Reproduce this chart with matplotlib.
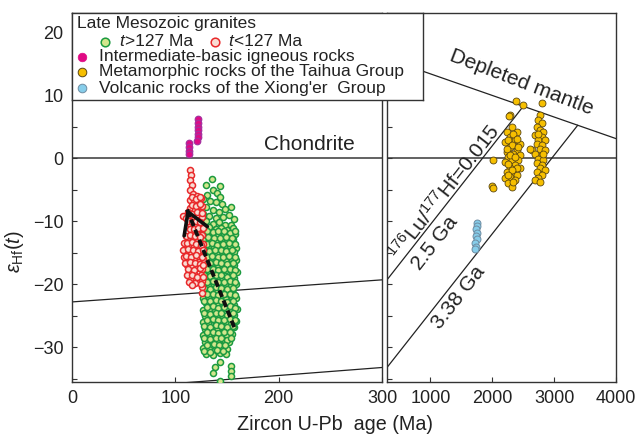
import matplotlib
matplotlib.use('Agg')
import matplotlib.pyplot as plt
from matplotlib.ticker import MultipleLocator, FixedLocator, NullFormatter

plt.rcParams['font.family'] = ['Liberation Sans', 'DejaVu Sans']
plt.rcParams['mathtext.fontset'] = 'custom'
plt.rcParams['mathtext.rm'] = 'Liberation Sans'
plt.rcParams['mathtext.it'] = 'Liberation Sans:italic'
plt.rcParams['mathtext.bf'] = 'Liberation Sans:bold'

# ---------------- data ----------------
# Late Mesozoic granites, t > 127 Ma (age Ma, eHf(t))
green_x = [135, 130, 143, 136, 140, 131, 127, 134, 139, 145, 154, 130, 136, 142, 127, 133, 139, 146, 157,
           130, 136, 142, 148, 154, 143, 148, 152,
           128, 133, 139, 144, 150, 156,
           126, 131, 136, 141, 147, 153, 158,
           129, 134, 139, 145, 150, 156,
           127, 132, 137, 142, 148, 153, 159,
           129, 135, 140, 146, 151, 157,
           127, 132, 138, 143, 149, 154, 159,
           130, 135, 141, 146, 152, 157,
           127, 133, 138, 144, 149, 155, 160,
           129, 135, 140, 146, 151, 157,
           127, 132, 137, 143, 148, 154, 159,
           129, 134, 140, 145, 151, 156,
           127, 132, 138, 143, 149, 154, 159,
           130, 135, 141, 146, 152, 157,
           127, 133, 138, 144, 149, 155, 160,
           129, 135, 140, 146, 151, 157,
           127, 132, 138, 143, 149, 154, 159,
           129, 135, 140, 146, 152, 157,
           127, 133, 138, 144, 150, 155,
           129, 135, 141, 147, 152,
           127, 133, 139, 145, 150,
           130, 136, 143, 149,
           143, 138, 136, 154, 154, 154, 143]
green_y = [-3.3, -4.2, -4.4, -5.0, -5.6, -5.9, -6.5, -6.8, -7.0, -7.3, -7.7, -7.8, -8.3, -8.5, -8.9, -9.2, -9.5, -9.4, -9.6,
           -10.0, -10.4, -10.2, -10.6, -10.6, -6.1, -8.1, -9.0,
           -11.2, -10.9, -11.3, -11.0, -11.4, -11.1,
           -12.1, -12.3, -11.9, -12.2, -12.0, -12.4, -12.1,
           -13.1, -12.8, -13.3, -13.0, -13.2, -12.9,
           -14.2, -13.9, -14.1, -14.3, -13.8, -14.0, -14.2,
           -15.1, -14.9, -15.2, -15.0, -15.3, -14.9,
           -16.1, -16.2, -15.9, -16.0, -16.3, -15.9, -16.1,
           -17.0, -17.2, -16.9, -17.1, -17.3, -17.0,
           -18.1, -17.9, -18.2, -18.0, -17.8, -18.2, -18.0,
           -19.2, -19.0, -18.9, -19.1, -19.3, -19.0,
           -20.0, -20.2, -19.9, -20.1, -20.0, -20.3, -19.9,
           -21.1, -20.9, -21.2, -21.0, -21.1, -20.8,
           -22.1, -21.9, -22.2, -22.0, -22.3, -21.9, -22.1,
           -23.0, -23.2, -22.9, -23.1, -23.0, -23.3,
           -24.1, -23.9, -24.2, -24.0, -23.8, -24.2, -24.0,
           -25.1, -24.9, -25.2, -25.0, -25.1, -24.8,
           -26.0, -26.2, -25.9, -26.1, -26.0, -26.3, -25.9,
           -27.1, -26.9, -27.2, -27.0, -27.1, -26.8,
           -28.1, -27.9, -28.2, -28.0, -28.2, -27.9,
           -29.1, -29.0, -29.2, -28.9, -29.1,
           -30.1, -30.2, -29.9, -30.0, -30.3,
           -31.0, -31.2, -30.9, -31.1,
           -32.4, -33.1, -34.0, -32.9, -33.8, -34.6, -35.4]

# second (interleaved) set of t > 127 Ma granite analyses
green2_x = [130.5, 136, 141.5, 147, 152.5, 158,
            127.5, 132, 137.5, 143, 149, 155,
            130.5, 135.5, 140.5, 146, 151.5, 157.5,
            128, 133, 138.5, 144, 149.5, 155,
            130.5, 135.5, 141, 146.5, 152, 157.5,
            128, 133.5, 139, 144.5, 150, 155.5,
            130.5, 136, 141.5, 147, 152.5, 158,
            128, 133.5, 139, 144.5, 150, 155.5,
            130.5, 136, 141.5, 147, 152.5, 157.5,
            128, 133.5, 139, 144.5, 150, 155.5,
            130.5, 136, 141.5, 147, 152.5, 157.5,
            128, 133.5, 139, 144.5, 150, 155.5,
            130.5, 136, 141.5, 147, 152.5, 157.5,
            128, 133.5, 139, 144.5, 150, 155.5,
            130.5, 136, 141.5, 147, 152.5, 157.5,
            128, 133.5, 139, 144.5, 150, 155.5,
            130.5, 136, 141.5, 147, 152.5,
            128, 133.5, 139, 144.5, 150, 154,
            131, 137, 142.5, 148,
            128, 134, 140, 146]
green2_y = [-11.6, -11.7, -11.5, -11.6, -11.8, -11.6,
            -12.6, -12.5, -12.7, -12.6, -12.5, -12.7,
            -13.6, -13.5, -13.7, -13.6, -13.4, -13.6,
            -14.6, -14.7, -14.5, -14.6, -14.8, -14.6,
            -15.6, -15.5, -15.7, -15.6, -15.5, -15.7,
            -16.6, -16.7, -16.5, -16.6, -16.8, -16.6,
            -17.6, -17.5, -17.7, -17.6, -17.5, -17.7,
            -18.6, -18.7, -18.5, -18.6, -18.8, -18.6,
            -19.6, -19.5, -19.7, -19.6, -19.5, -19.7,
            -20.6, -20.7, -20.5, -20.6, -20.8, -20.6,
            -21.6, -21.5, -21.7, -21.6, -21.5, -21.7,
            -22.6, -22.7, -22.5, -22.6, -22.8, -22.6,
            -23.6, -23.5, -23.7, -23.6, -23.5, -23.7,
            -24.6, -24.7, -24.5, -24.6, -24.8, -24.6,
            -25.6, -25.5, -25.7, -25.6, -25.5, -25.7,
            -26.6, -26.7, -26.5, -26.6, -26.8, -26.6,
            -27.6, -27.5, -27.7, -27.6, -27.5,
            -28.6, -28.7, -28.5, -28.6, -28.8, -28.6,
            -29.6, -29.5, -29.7, -29.6,
            -30.6, -30.7, -30.5, -30.6]

# Late Mesozoic granites, t < 127 Ma
red_x = [114, 115, 114, 116, 114, 117, 121, 125, 114, 118, 122, 126, 114, 119, 124,
         107, 110, 114, 118, 122, 126, 114, 119, 124, 116, 121, 126, 112, 117, 122,
         108, 113, 118, 123, 127, 110, 115, 120, 125, 108, 113, 118, 123, 127,
         111, 116, 121, 126, 113, 118, 125, 114, 119, 126, 126, 126,
         116, 120, 124, 116, 120, 124, 112, 116, 121, 126, 112, 116, 120, 124,
         114, 118, 122, 127, 110, 114, 119, 124, 111, 116, 120, 125,
         107, 112, 117, 122, 127, 110, 115, 120, 126, 109, 114, 119, 124,
         112, 118, 124, 127, 111, 116, 121, 127, 113, 116, 125]
red_y = [-1.8, -2.7, -3.5, -4.3, -5.1, -5.7, -6.0, -6.3, -6.6, -7.0, -7.2, -7.6, -7.9, -8.2, -8.5,
         -9.2, -9.5, -9.0, -9.6, -9.8, -9.4, -10.5, -10.8, -11.0, -11.6, -12.0, -12.2, -12.5, -12.9, -13.1,
         -13.4, -13.8, -14.0, -14.2, -13.6, -14.6, -14.9, -15.1, -15.3, -15.7, -16.0, -16.2, -16.4, -16.0,
         -16.9, -17.2, -17.4, -17.6, -18.1, -18.4, -18.6, -19.2, -19.8, -19.5, -20.5, -21.4,
         -6.2, -6.4, -6.1, -7.4, -7.6, -7.3, -8.6, -8.8, -8.5, -8.7, -10.0, -10.1, -9.9, -10.2,
         -11.2, -11.3, -11.1, -11.0, -12.3, -12.2, -12.4, -12.5, -13.5, -13.3, -13.6, -13.7,
         -14.5, -14.4, -14.6, -14.7, -14.5, -15.5, -15.6, -15.4, -15.6, -16.6, -16.5, -16.7, -16.8,
         -17.5, -17.7, -17.4, -17.0, -18.5, -18.6, -18.8, -18.9, -19.6, -20.1, -20.0]

# Intermediate-basic igneous rocks
mafic_x = [122, 122, 122, 122, 122, 122, 121, 113, 113, 113, 113]
mafic_y = [6.2, 5.6, 5.0, 4.4, 3.8, 3.3, 2.8, 2.4, 1.8, 1.2, 0.6]

# Metamorphic rocks of the Taihua Group
taihua_x = [2285, 2312, 2231, 2393, 2285, 2366, 2204, 2447, 2285, 2393, 2231, 2339, 2447, 2258,
            2312, 2420, 2204, 2366, 2285, 2447, 2231, 2339, 2393, 2285, 2204, 2366, 2258, 2312,
            2339, 2258, 2393, 2312, 2231, 2420, 2285, 2366, 2258, 2393, 2312, 2258, 2339,
            2382, 2491, 2274, 2015, 1990, 2010,
            2771, 2744, 2798, 2717, 2771, 2825, 2690, 2798, 2744, 2852, 2717, 2798, 2636, 2771,
            2852, 2690, 2798, 2744, 2825, 2717, 2798, 2771, 2852, 2717, 2798, 2744, 2690, 2771,
            2808, 2609, 2744, 2825]
taihua_y = [6.8, 5.0, 4.2, 4.2, 3.4, 2.9, 2.6, 2.3, 1.8, 1.3, 1.0, 0.7, 0.5, 0.2,
            -0.3, -0.3, -0.6, -1.1, -1.6, -1.6, -2.2, -2.4, -2.7, -3.0, -3.2, -3.5, -4.0, -4.6,
            3.9, 2.9, 3.1, 2.1, 1.5, 1.8, 0.5, 0.2, -0.9, -1.6, -1.9, -2.7, -3.8,
            9.0, 8.4, 6.7, -0.3, -4.4, -4.8,
            6.8, 6.0, 5.5, 5.0, 4.4, 4.2, 3.6, 3.4, 2.9, 2.9, 2.3, 2.1, 1.3, 1.5,
            1.3, 0.7, 0.5, -0.1, -0.3, -0.8, -1.1, -1.6, -1.9, -2.2, -2.7, -3.2, -3.5, -3.8,
            8.7, 1.5, 3.9, 0.7]

# Volcanic rocks of the Xiong'er Group
xionger_x = [1750, 1762, 1740, 1755, 1735, 1748, 1725, 1732, 1718]
xionger_y = [-10.3, -10.8, -11.3, -11.8, -12.4, -12.9, -13.5, -14.1, -14.4]

# reference lines (age Ma, eHf)
dm_x = [0, 4000]
dm_y = [16.8, 3.1]
crust25_x = [0, 300, 2500]
crust25_y = [-22.8, -19.3, 8.2]
crust338_x = [0, 300, 3380]
crust338_y = [-37.0, -33.2, 5.2]

arrow_start = (157, -26.8)
arrow_tip = (111, -8.0)

left_xticks = [0, 100, 200, 300]
right_xticks = [1000, 2000, 3000, 4000]
yticks = [-30, -20, -10, 0, 10, 20]

# ---------------- style ----------------
W, H = 638, 437
fig = plt.figure(figsize=(W / 100, H / 100), dpi=100)


def frect(x0, y0, x1, y1):
    return [x0 / W, 1 - y1 / H, (x1 - x0) / W, (y1 - y0) / H]


ax1 = fig.add_axes(frect(72, 12.5, 382, 382))
ax2 = fig.add_axes(frect(387, 12.5, 616, 382))

TXT = '#222222'
FS_TICK = 13
FS_ANN = 15
FS_LAB = 14.2
FS_LEG = 12.5

c_green_e, c_green_f = '#1c9a40', '#d3e68c'
c_red_e, c_red_f = '#e8292b', '#f9dcd3'
c_mag_e, c_mag_f = '#a6309f', '#e00a84'
c_gold_e, c_gold_f = '#5a4612', '#f6bf00'
c_blue_e, c_blue_f = '#6e8ca2', '#86cdea'

for ax in (ax1, ax2):
    ax.set_ylim(-35.5, 23.1)
    for s in ax.spines.values():
        s.set_linewidth(1.0)
        s.set_color('#333333')
    ax.axhline(0, color='#555555', lw=1.3, zorder=1)
    ax.plot(crust25_x, crust25_y, color='#222222', lw=0.9, zorder=1)
    ax.plot(crust338_x, crust338_y, color='#222222', lw=0.9, zorder=1)
    ax.plot(dm_x, dm_y, color='#222222', lw=0.9, zorder=1)
    ax.tick_params(axis='both', which='both', direction='in', length=3.5, width=0.8,
                   colors='#333333', labelcolor=TXT, labelsize=FS_TICK, pad=6)

ax1.set_xlim(0, 300)
ax2.set_xlim(300, 4000)
ax1.xaxis.set_major_locator(FixedLocator(left_xticks))
ax2.xaxis.set_major_locator(FixedLocator(right_xticks))
ax1.yaxis.set_major_locator(FixedLocator(yticks))
ax1.yaxis.set_minor_locator(MultipleLocator(5))
ax2.yaxis.set_major_locator(MultipleLocator(5))
ax2.yaxis.set_major_formatter(NullFormatter())

# scatter
gkw = dict(s=19, facecolor=c_green_f, edgecolor=c_green_e, linewidth=1.1, zorder=3)
ax1.scatter(green_x, green_y, **gkw)
ax1.scatter(green2_x, green2_y, **gkw)
ax1.scatter(red_x, red_y, s=19, facecolor=c_red_f, edgecolor=c_red_e, linewidth=1.1, zorder=4)
ax1.scatter(mafic_x, mafic_y, s=22, facecolor=c_mag_f, edgecolor=c_mag_e, linewidth=0.9, zorder=5)
ax2.scatter(taihua_x, taihua_y, s=25, facecolor=c_gold_f, edgecolor=c_gold_e, linewidth=0.6, zorder=3)
ax2.scatter(xionger_x, xionger_y, s=25, facecolor=c_blue_f, edgecolor=c_blue_e, linewidth=0.7, zorder=3)

# arrow
ax1.plot([arrow_start[0], arrow_tip[0]], [arrow_start[1], arrow_tip[1]], color='#111111',
         lw=2.8, dashes=(1.8, 1.0), zorder=6)
head_from = (arrow_tip[0] + 0.06 * (arrow_start[0] - arrow_tip[0]),
             arrow_tip[1] + 0.06 * (arrow_start[1] - arrow_tip[1]))
ax1.annotate('', xy=arrow_tip, xytext=head_from,
             arrowprops=dict(arrowstyle='->, head_length=0.75, head_width=0.45', lw=2.6,
                             color='#111111', mutation_scale=20, shrinkA=0, shrinkB=0),
             zorder=6)

# annotations
ax1.text(186, 2.1, 'Chondrite', fontsize=FS_ANN, color=TXT, ha='left', va='center')
ax2.text(2470, 12.0, 'Depleted mantle', fontsize=FS_ANN, color=TXT, ha='center', va='center',
         rotation=-21, rotation_mode='anchor')
ax2.text(1230, -5.4, r'$^{176}$Lu/$^{177}$Hf=0.015', fontsize=FS_ANN, color=TXT, ha='center',
         va='center', rotation=52, rotation_mode='anchor')
ax2.text(1072, -13.4, '2.5 Ga', fontsize=FS_ANN, color=TXT, ha='center', va='center',
         rotation=52, rotation_mode='anchor')
ax2.text(1460, -22.1, '3.38 Ga', fontsize=FS_ANN, color=TXT, ha='center', va='center',
         rotation=52, rotation_mode='anchor')

# axis labels
ax1.set_ylabel(r'$\varepsilon_{\mathrm{Hf}}(\mathit{t})$', fontsize=FS_LAB, color=TXT)
ax1.yaxis.set_label_coords(-0.15, 0.352)
fig.text(335 / W, 1 - 424 / H, 'Zircon U-Pb  age (Ma)', fontsize=FS_LAB, color=TXT,
         ha='center', va='center')

# legend box
lax = fig.add_axes(frect(72, 12.5, 423, 100), zorder=10)
lax.set_xlim(0, 351)
lax.set_ylim(87.5, 0)
lax.set_xticks([])
lax.set_yticks([])
lax.set_facecolor('white')
for s in lax.spines.values():
    s.set_linewidth(1.0)
    s.set_color('#333333')

lax.text(4.7, 10.8, 'Late Mesozoic granites', fontsize=FS_LEG, color=TXT, va='center', ha='left')
legend_rows = [
    (33, 29.2, 47.3, 't', '>127 Ma', c_green_f, c_green_e, 1.1),
    (143, 29.2, 156.3, 't', '<127 Ma', c_red_f, c_red_e, 1.1),
    (9.7, 44.2, 27.3, '', 'Intermediate-basic igneous rocks', c_mag_f, c_mag_f, 0.5),
    (9.7, 59.2, 27.3, '', 'Metamorphic rocks of the Taihua Group', c_gold_f, c_gold_e, 0.7),
    (9.7, 75.8, 27.3, '', "Volcanic rocks of the Xiong'er  Group", c_blue_f, c_blue_e, 0.7),
]
for mx, my, tx, ital, label, fc, ec, lw in legend_rows:
    lax.plot([mx], [my], marker='o', ms=6.2, mfc=fc, mec=ec, mew=lw, ls='none')
    if ital:
        lax.text(tx, my, ital, fontsize=FS_LEG, color=TXT, va='center', ha='left', style='italic')
        tx += 5.5
    lax.text(tx, my, label, fontsize=FS_LEG, color=TXT, va='center', ha='left')

fig.savefig('out.png', dpi=100)
